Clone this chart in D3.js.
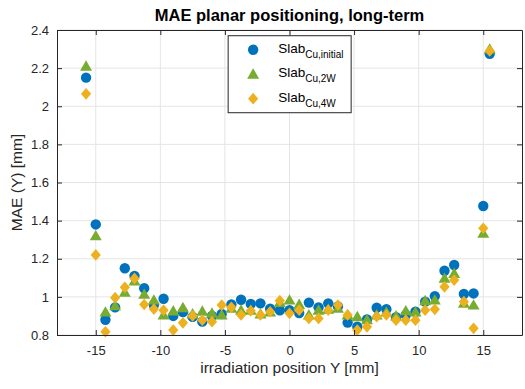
<!DOCTYPE html>
<html>
<head>
<meta charset="utf-8">
<script src="https://cdn.jsdelivr.net/npm/d3@7"></script>
<style>
  body { margin: 0; background: #fff; }
  text { font-family: "Liberation Sans", Arial, sans-serif; }
</style>
</head>
<body>
<div id="wrapper"></div>
<script>
// positions along Y [mm]
const positions = [-15.75, -15, -14.25, -13.5, -12.75, -12, -11.25, -10.5, -9.75, -9, -8.25,
  -7.5, -6.75, -6, -5.25, -4.5, -3.75, -3, -2.25, -1.5, -0.75, 0, 0.75, 1.5, 2.25, 3,
  3.75, 4.5, 5.25, 6, 6.75, 7.5, 8.25, 9, 9.75, 10.5, 11.25, 12, 12.75, 13.5, 14.25, 15, 15.5]

const maeInitial = [2.15, 1.38, 0.88, 0.945, 1.15, 1.11, 1.045, 0.957, 0.99, 0.90, 0.92,
  0.895, 0.87, 0.90, 0.91, 0.96, 0.985, 0.963, 0.966, 0.938, 0.93, 0.93, 0.915, 0.97, 0.945, 0.966,
  0.95, 0.865, 0.843, 0.882, 0.943, 0.935, 0.893, 0.905, 0.922, 0.975, 1.004, 1.137, 1.167, 1.015, 1.018, 1.477, 2.275]

const mae2W = [2.21, 1.32, 0.92, 0.953, 1.024, 1.083, 1.013, 0.983, 0.905, 0.926, 0.943,
  0.91, 0.925, 0.914, 0.905, 0.94, 0.93, 0.93, 0.91, 0.92, 0.97, 0.983, 0.96, 0.905, 0.93, 0.935,
  0.94, 0.905, 0.896, 0.88, 0.905, 0.92, 0.90, 0.927, 0.92, 0.98, 0.983, 1.097, 1.123, 0.966, 0.957, 1.333, 2.30]

const mae4W = [2.065, 1.22, 0.817, 0.996, 1.05, 1.097, 0.96, 0.936, 0.93, 0.826, 0.864,
  0.90, 0.878, 0.87, 0.957, 0.945, 0.905, 0.927, 0.905, 0.922, 0.98, 0.914, 0.93, 0.887, 0.887, 0.93,
  0.957, 0.905, 0.826, 0.843, 0.896, 0.905, 0.878, 0.878, 0.878, 0.93, 0.935, 1.053, 1.088, 0.975, 0.835, 1.36, 2.29]

const xTicks = [-15, -10, -5, 0, 5, 10, 15]
const yTicks = [0.8, 1, 1.2, 1.4, 1.6, 1.8, 2, 2.2, 2.4]

const series = [
  { sub: "Cu,initial", values: maeInitial, color: "#0072BD", shape: "circle" },
  { sub: "Cu,2W", values: mae2W, color: "#77AC30", shape: "triangle" },
  { sub: "Cu,4W", values: mae4W, color: "#EDB120", shape: "diamond" },
]

const dimensions = {
  width: 525,
  height: 389,
  margin: { top: 30, right: 3, bottom: 54, left: 57 },
}
dimensions.boundedWidth = dimensions.width - dimensions.margin.left - dimensions.margin.right
dimensions.boundedHeight = dimensions.height - dimensions.margin.top - dimensions.margin.bottom

const svg = d3.select("#wrapper").append("svg")
  .attr("width", dimensions.width)
  .attr("height", dimensions.height)

const bounds = svg.append("g")
  .attr("transform", `translate(${dimensions.margin.left},${dimensions.margin.top})`)

const xScale = d3.scaleLinear()
  .domain([-18, 18])
  .range([0, dimensions.boundedWidth])

const yScale = d3.scaleLinear()
  .domain([0.8, 2.4])
  .range([dimensions.boundedHeight, 0])

// grid
bounds.append("g").selectAll("line").data(xTicks).join("line")
  .attr("x1", d => xScale(d)).attr("x2", d => xScale(d))
  .attr("y1", 0).attr("y2", dimensions.boundedHeight)
  .attr("stroke", "#e5e5e5")
bounds.append("g").selectAll("line").data(yTicks).join("line")
  .attr("y1", d => yScale(d)).attr("y2", d => yScale(d))
  .attr("x1", 0).attr("x2", dimensions.boundedWidth)
  .attr("stroke", "#e5e5e5")

// markers (matlab-ish shapes)
const symbolFor = {
  circle: d3.symbol(d3.symbolCircle, 85),
  triangle: d3.symbol(d3.symbolTriangle, 62),
  diamond: d3.symbol(d3.symbolSquare, 52),
}
const shapeTweak = {
  circle: "",
  triangle: " translate(0,1)",
  diamond: " scale(1,1.15) rotate(45)",
}

series.forEach(s => {
  bounds.append("g").selectAll("path")
    .data(positions.map((p, i) => [p, s.values[i]]))
    .join("path")
      .attr("d", symbolFor[s.shape]())
      .attr("transform", d => `translate(${xScale(d[0])},${yScale(d[1])})` + shapeTweak[s.shape])
      .attr("fill", s.color)
})

// axes
const axisColor = "#262626"
const fmt = d => String(d)

const xAxis = bounds.append("g")
  .attr("transform", `translate(0,${dimensions.boundedHeight})`)
  .call(d3.axisBottom(xScale).tickValues(xTicks).tickFormat(fmt).tickSizeInner(-5).tickSizeOuter(0).tickPadding(11))
const xAxisTop = bounds.append("g")
  .call(d3.axisTop(xScale).tickValues(xTicks).tickFormat("").tickSizeInner(-5).tickSizeOuter(0))
const yAxis = bounds.append("g")
  .call(d3.axisLeft(yScale).tickValues(yTicks).tickFormat(fmt).tickSizeInner(-5).tickSizeOuter(0).tickPadding(8))
const yAxisRight = bounds.append("g")
  .attr("transform", `translate(${dimensions.boundedWidth},0)`)
  .call(d3.axisRight(yScale).tickValues(yTicks).tickFormat("").tickSizeInner(-5).tickSizeOuter(0))

;[xAxis, xAxisTop, yAxis, yAxisRight].forEach(a => {
  a.select(".domain").attr("stroke", axisColor)
  a.selectAll(".tick line").attr("stroke", axisColor)
  a.selectAll("text").attr("fill", axisColor).style("font-size", "13px")
    .style("font-family", "'Liberation Sans', Arial, sans-serif")
})

// labels
svg.append("text")
  .attr("x", dimensions.margin.left + dimensions.boundedWidth / 2)
  .attr("y", 21)
  .attr("text-anchor", "middle")
  .style("font-size", "16.5px")
  .style("font-weight", "bold")
  .attr("fill", "#000")
  .text("MAE planar positioning, long-term")

svg.append("text")
  .attr("x", dimensions.margin.left + dimensions.boundedWidth / 2)
  .attr("y", 373)
  .attr("text-anchor", "middle")
  .style("font-size", "15.5px")
  .attr("fill", axisColor)
  .text("irradiation position Y [mm]")

svg.append("text")
  .attr("transform", `translate(22,${dimensions.margin.top + dimensions.boundedHeight / 2}) rotate(-90)`)
  .attr("text-anchor", "middle")
  .style("font-size", "15.5px")
  .attr("fill", axisColor)
  .text("MAE (Y) [mm]")

// legend
const legend = bounds.append("g")
  .attr("transform", `translate(${xScale(-4.75)},${yScale(2.37)})`)

legend.append("rect")
  .attr("width", 123).attr("height", 77)
  .attr("fill", "#fff").attr("stroke", "#262626").attr("stroke-width", 1)

series.forEach((s, i) => {
  const row = legend.append("g").attr("transform", `translate(0,${14 + i * 24.5})`)
  row.append("path")
    .attr("d", symbolFor[s.shape]())
    .attr("transform", `translate(25,0)` + shapeTweak[s.shape])
    .attr("fill", s.color)
  const t = row.append("text")
    .attr("x", 50).attr("y", 3)
    .style("font-size", "13.5px")
    .attr("fill", "#000")
  t.append("tspan").text("Slab")
  t.append("tspan").attr("dy", 5).style("font-size", "10px").text(s.sub)
})
</script>
</body>
</html>
